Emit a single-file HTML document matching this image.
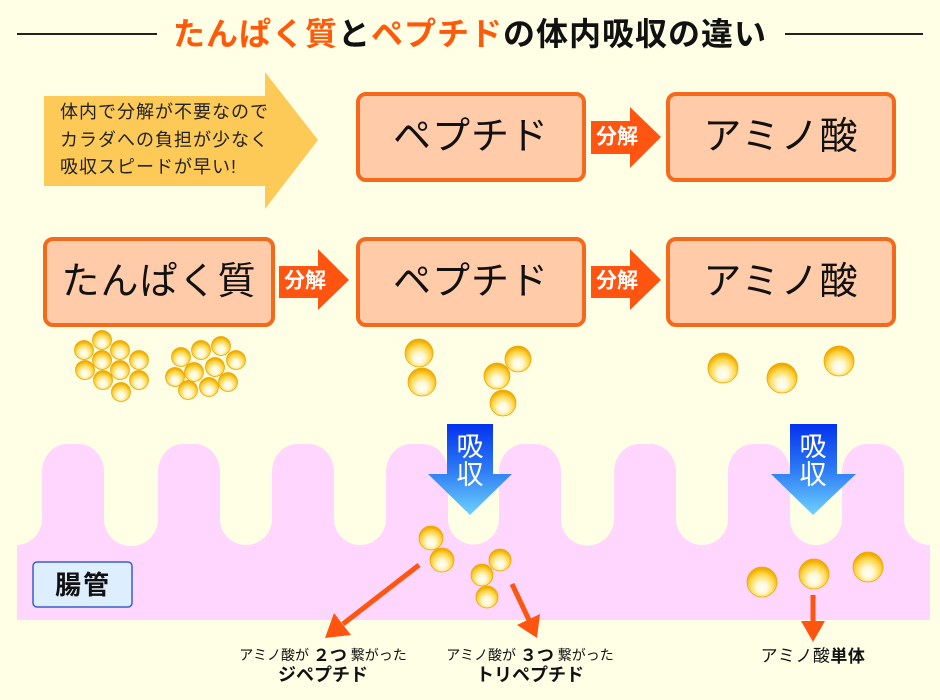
<!DOCTYPE html>
<html><head><meta charset="utf-8"><style>
html,body{margin:0;padding:0;background:#FFFFE6;}
svg{display:block;font-family:"Liberation Sans","Noto Sans CJK JP",sans-serif;}
</style></head><body>
<svg width="940" height="700" viewBox="0 0 940 700" xmlns="http://www.w3.org/2000/svg">
<defs>
<radialGradient id="ball" cx="0.5" cy="0.62" r="0.56" fx="0.5" fy="0.72">
<stop offset="0" stop-color="#FFFFFF"/>
<stop offset="0.35" stop-color="#FFF8D2"/>
<stop offset="0.74" stop-color="#FFD64A"/>
<stop offset="1" stop-color="#F0AC00"/>
</radialGradient>
<linearGradient id="blue" x1="0" y1="0" x2="0" y2="1">
<stop offset="0" stop-color="#0432EE"/>
<stop offset="0.5" stop-color="#2C7AF4"/>
<stop offset="1" stop-color="#6ED2FF"/>
</linearGradient>
</defs>
<rect width="940" height="700" fill="#FFFFE6"/>

<!-- Title -->
<line x1="17" y1="34" x2="157" y2="34" stroke="#222" stroke-width="2"/>
<line x1="785" y1="34" x2="923" y2="34" stroke="#222" stroke-width="2"/>
<text x="470" y="34" text-anchor="middle" dominant-baseline="central" font-size="32" font-weight="bold" letter-spacing="1"><tspan fill="#FF5A0A">たんぱく質</tspan><tspan fill="#111">と</tspan><tspan fill="#FF5A0A">ペプチド</tspan><tspan fill="#111">の体内吸収の違い</tspan></text>

<!-- yellow arrow -->
<polygon points="44,96 265,96 265,72 318,140 265,209 265,186 44,186" fill="#FDCA58"/>
<g font-size="18" fill="#222" letter-spacing="1" dominant-baseline="central">
<text x="60" y="112">体内で分解が不要なので</text>
<text x="60" y="140">カラダへの負担が少なく</text>
<text x="60" y="167">吸収スピードが早い!</text>
</g>

<!-- boxes -->
<g fill="#FFCBA8" stroke="#F4691C" stroke-width="4">
<rect x="358" y="94" width="226" height="86" rx="8"/>
<rect x="668" y="94" width="226" height="86" rx="8"/>
<rect x="45" y="239" width="228" height="86" rx="8"/>
<rect x="358" y="239" width="226" height="86" rx="8"/>
<rect x="668" y="239" width="226" height="86" rx="8"/>
</g>
<g font-size="38" fill="#111" text-anchor="middle" dominant-baseline="central" letter-spacing="1">
<text x="471" y="137">ペプチド</text>
<text x="781" y="137">アミノ酸</text>
<text x="159" y="282">たんぱく質</text>
<text x="471" y="282">ペプチド</text>
<text x="781" y="282">アミノ酸</text>
</g>

<!-- 分解 arrows -->
<polygon points="591,121 630,121 630,107 661,137 630,168 630,154 591,154" fill="#FF5511"/>
<polygon points="279,266 318,266 318,249 349,280 318,310 318,298 279,298" fill="#FF5511"/>
<polygon points="591,266 630,266 630,249 661,280 630,310 630,298 591,298" fill="#FF5511"/>
<g font-size="21" fill="#fff" font-weight="bold" dominant-baseline="central">
<text x="596" y="137">分解</text>
<text x="284" y="281">分解</text>
<text x="596" y="281">分解</text>
</g>

<!-- intestine -->
<path fill="#FFD6FE" d="M17,620 L17,545 A26,26 0 0 0 42,519 L42,472 A25,28 0 0 1 67,444 L79,444 A25,28 0 0 1 104,472 L104,519 A27,27 0 0 0 158,519 L158,472 A25,28 0 0 1 183,444 L195,444 A25,28 0 0 1 220,472 L220,519 A26,26 0 0 0 272,519 L272,472 A25,28 0 0 1 297,444 L309,444 A25,28 0 0 1 334,472 L334,519 A26,26 0 0 0 386,519 L386,472 A25,28 0 0 1 411,444 L423,444 A25,28 0 0 1 448,472 L448,519 A25.5,25.5 0 0 0 499,519 L499,472 A25,28 0 0 1 524,444 L536,444 A25,28 0 0 1 561,472 L561,519 A26.5,26.5 0 0 0 614,519 L614,472 A25,28 0 0 1 639,444 L651,444 A25,28 0 0 1 676,472 L676,519 A26,26 0 0 0 728,519 L728,472 A25,28 0 0 1 753,444 L765,444 A25,28 0 0 1 790,472 L790,519 A26,26 0 0 0 842,519 L842,472 A25,28 0 0 1 867,444 L879,444 A25,28 0 0 1 904,472 L904,519 A26,26 0 0 0 930,545 L930,620 Z"/>

<!-- 腸管 label -->
<rect x="33" y="562" width="99" height="45" rx="4" fill="#DDEEFF" stroke="#3A5FCD" stroke-width="1.5"/>
<text x="83" y="585" text-anchor="middle" dominant-baseline="central" font-size="26" font-weight="bold" fill="#111" letter-spacing="2">腸管</text>

<!-- balls -->
<g fill="url(#ball)" stroke="#E9A800" stroke-width="0.8">
<circle cx="102" cy="340" r="9.5"/>
<circle cx="84" cy="350" r="9.5"/>
<circle cx="120" cy="350" r="9.5"/>
<circle cx="102" cy="360" r="9.5"/>
<circle cx="139" cy="360" r="9.5"/>
<circle cx="85" cy="370" r="9.5"/>
<circle cx="120" cy="370" r="9.5"/>
<circle cx="103" cy="380" r="9.5"/>
<circle cx="139" cy="380" r="9.5"/>
<circle cx="121" cy="392" r="9.5"/>

<circle cx="181" cy="357" r="9.5"/>
<circle cx="201" cy="350" r="9.5"/>
<circle cx="221" cy="346" r="9.5"/>
<circle cx="236" cy="360" r="9.5"/>
<circle cx="215" cy="367" r="9.5"/>
<circle cx="194" cy="372" r="9.5"/>
<circle cx="175" cy="377" r="9.5"/>
<circle cx="228" cy="382" r="9.5"/>
<circle cx="209" cy="387" r="9.5"/>
<circle cx="188" cy="390" r="9.5"/>

<circle cx="419" cy="353" r="14"/>
<circle cx="422" cy="382" r="14"/>
<circle cx="518" cy="359" r="13"/>
<circle cx="497" cy="376" r="13"/>
<circle cx="503" cy="403" r="13"/>

<circle cx="723" cy="368" r="15"/>
<circle cx="782" cy="378" r="15"/>
<circle cx="839" cy="361" r="15"/>

<circle cx="431" cy="538" r="12"/>
<circle cx="442" cy="560" r="12"/>

<circle cx="500" cy="560" r="11"/>
<circle cx="482" cy="575" r="11"/>
<circle cx="487" cy="597" r="11"/>

<circle cx="762" cy="582" r="15"/>
<circle cx="814" cy="574" r="15"/>
<circle cx="868" cy="567" r="15"/>
</g>

<!-- 吸収 arrows -->
<polygon points="447,424 493,424 493,474 512,474 470,515 428,474 447,474" fill="url(#blue)"/>
<polygon points="790,424 837,424 837,474 856,474 813,515 771,474 790,474" fill="url(#blue)"/>
<g font-size="27" fill="#fff" text-anchor="middle" dominant-baseline="central">
<text x="470" y="447">吸</text>
<text x="470" y="475">収</text>
<text x="813" y="447">吸</text>
<text x="813" y="475">収</text>
</g>

<!-- orange arrows -->
<g stroke="#FF5511" stroke-width="5" fill="none">
<line x1="419" y1="565" x2="343" y2="624"/>
<line x1="512" y1="584" x2="529" y2="620"/>
<line x1="813" y1="595" x2="813" y2="622"/>
</g>
<g fill="#FF5511">
<polygon points="325,638 351,635 334,613"/>
<polygon points="537,638 540,614 517,625"/>
<polygon points="813,642 801,621 825,621"/>
</g>

<!-- labels -->
<text x="323" y="655" text-anchor="middle" dominant-baseline="central" font-size="14" fill="#111">アミノ酸が <tspan font-weight="bold" font-size="17">２つ</tspan> 繋がった</text>
<text x="323" y="675" text-anchor="middle" dominant-baseline="central" font-size="18" font-weight="bold" fill="#111">ジペプチド</text>
<text x="530" y="655" text-anchor="middle" dominant-baseline="central" font-size="14" fill="#111">アミノ酸が <tspan font-weight="bold" font-size="17">３つ</tspan> 繋がった</text>
<text x="530" y="675" text-anchor="middle" dominant-baseline="central" font-size="18" font-weight="bold" fill="#111">トリペプチド</text>
<text x="813" y="656" text-anchor="middle" dominant-baseline="central" font-size="17" fill="#111" letter-spacing="0.5">アミノ酸<tspan font-weight="bold">単体</tspan></text>
</svg>
</body></html>
